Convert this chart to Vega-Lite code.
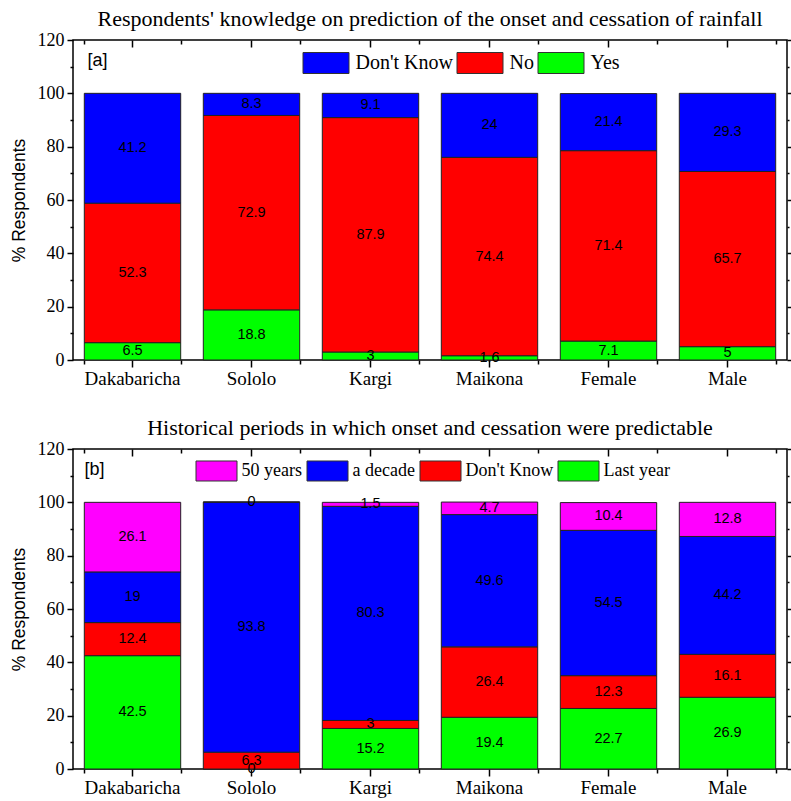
{
  "$schema": "https://vega.github.io/schema/vega-lite/v6.json",
  "background": "white",
  "padding": {"left": 9, "top": 7, "right": 0, "bottom": 0},
  "spacing": 27,
  "config": {
    "view": {"stroke": "black", "strokeWidth": 1.5},
    "axis": {"grid": false, "domain": false, "tickColor": "black", "tickWidth": 1.5, "labelColor": "black", "titleColor": "black", "labelFont": "Liberation Serif"},
    "legend": {"padding": 0}
  },
  "resolve": {"scale": {"color": "independent"}},
  "vconcat": [
    {
      "title": {"text": "Respondents' knowledge on prediction of the onset and cessation of rainfall", "font": "Liberation Serif", "fontSize": 22, "fontWeight": "normal", "color": "black", "offset": 0},
      "width": 714,
      "height": 320,
      "data": {"values": [
        {"loc": "Dakabaricha", "cat": "Yes", "k": 1, "v": 6.5},
        {"loc": "Dakabaricha", "cat": "No", "k": 2, "v": 52.3},
        {"loc": "Dakabaricha", "cat": "Don't Know", "k": 3, "v": 41.2},
        {"loc": "Sololo", "cat": "Yes", "k": 1, "v": 18.8},
        {"loc": "Sololo", "cat": "No", "k": 2, "v": 72.9},
        {"loc": "Sololo", "cat": "Don't Know", "k": 3, "v": 8.3},
        {"loc": "Kargi", "cat": "Yes", "k": 1, "v": 3},
        {"loc": "Kargi", "cat": "No", "k": 2, "v": 87.9},
        {"loc": "Kargi", "cat": "Don't Know", "k": 3, "v": 9.1},
        {"loc": "Maikona", "cat": "Yes", "k": 1, "v": 1.6},
        {"loc": "Maikona", "cat": "No", "k": 2, "v": 74.4},
        {"loc": "Maikona", "cat": "Don't Know", "k": 3, "v": 24},
        {"loc": "Female", "cat": "Yes", "k": 1, "v": 7.1},
        {"loc": "Female", "cat": "No", "k": 2, "v": 71.4},
        {"loc": "Female", "cat": "Don't Know", "k": 3, "v": 21.4},
        {"loc": "Male", "cat": "Yes", "k": 1, "v": 5},
        {"loc": "Male", "cat": "No", "k": 2, "v": 65.7},
        {"loc": "Male", "cat": "Don't Know", "k": 3, "v": 29.3}
      ]},
      "resolve": {"axis": {"x": "independent", "y": "independent"}},
      "layer": [
        {
          "transform": [{"stack": "v", "groupby": ["loc"], "sort": [{"field": "k", "order": "ascending"}], "as": ["y0", "y1"]}],
          "mark": {"type": "bar", "stroke": "#222", "strokeWidth": 1},
          "encoding": {
            "x": {"field": "loc", "type": "nominal", "sort": ["Dakabaricha", "Sololo", "Kargi", "Maikona", "Female", "Male"], "scale": {"paddingInner": 0.19, "paddingOuter": 0.095}, "axis": {"orient": "bottom", "title": null, "labelAngle": 0, "labelFontSize": 19, "tickSize": 7, "labelPadding": 2}},
            "y": {"field": "y0", "type": "quantitative", "scale": {"domain": [0, 120], "nice": false}, "axis": {"orient": "left", "values": [0, 20, 40, 60, 80, 100, 120], "tickSize": 6, "labelFontSize": 18, "labelPadding": 3, "title": "% Respondents", "titleFont": "Liberation Sans", "titleFontSize": 17.5, "titleFontWeight": "normal", "titlePadding": 9}},
            "y2": {"field": "y1"},
            "color": {"field": "cat", "type": "nominal", "scale": {"domain": ["Don't Know", "No", "Yes"], "range": ["#0000ff", "#ff0000", "#00ff00"]}, "legend": {"title": null, "orient": "none", "legendX": 229.5, "legendY": -0.5, "direction": "horizontal", "symbolType": "M-1,-0.4565H1V0.4565H-1Z", "symbolSize": 2116, "symbolStrokeColor": "#333", "symbolStrokeWidth": 1, "symbolOpacity": 1, "labelFont": "Liberation Serif", "labelFontSize": 20, "labelColor": "black", "labelOffset": 6, "columnPadding": 1, "labelLimit": 300}}
          }
        },
        {
          "transform": [{"stack": "v", "groupby": ["loc"], "sort": [{"field": "k", "order": "ascending"}], "as": ["y0", "y1"]}, {"calculate": "(datum.y0 + datum.y1) / 2", "as": "ym"}],
          "mark": {"type": "text", "font": "Liberation Sans", "fontSize": 14.5, "color": "black", "baseline": "middle"},
          "encoding": {
            "x": {"field": "loc", "type": "nominal", "sort": ["Dakabaricha", "Sololo", "Kargi", "Maikona", "Female", "Male"], "axis": null},
            "y": {"field": "ym", "type": "quantitative", "axis": null},
            "text": {"field": "v", "type": "nominal"}
          }
        },
        {
          "mark": {"type": "point", "opacity": 0},
          "encoding": {
            "x": {"field": "loc", "type": "nominal", "sort": ["Dakabaricha", "Sololo", "Kargi", "Maikona", "Female", "Male"], "axis": {"orient": "bottom", "tickBand": "extent", "labels": false, "tickSize": 4, "title": null}},
            "y": {"field": "v", "type": "quantitative", "axis": {"orient": "left", "values": [10, 30, 50, 70, 90, 110], "labels": false, "tickSize": 3, "title": null}}
          }
        },
        {
          "mark": {"type": "point", "opacity": 0},
          "encoding": {
            "x": {"field": "loc", "type": "nominal", "sort": ["Dakabaricha", "Sololo", "Kargi", "Maikona", "Female", "Male"], "axis": {"orient": "top", "labels": false, "tickSize": -7, "title": null, "minExtent": 0}},
            "y": {"field": "v", "type": "quantitative", "axis": {"orient": "right", "values": [0, 20, 40, 60, 80, 100, 120], "labels": false, "tickSize": 4, "title": null}}
          }
        },
        {
          "mark": {"type": "point", "opacity": 0},
          "encoding": {
            "x": {"field": "loc", "type": "nominal", "sort": ["Dakabaricha", "Sololo", "Kargi", "Maikona", "Female", "Male"], "axis": {"orient": "top", "tickBand": "extent", "labels": false, "tickSize": -4, "title": null, "minExtent": 0}},
            "y": {"field": "v", "type": "quantitative", "axis": {"orient": "right", "values": [10, 30, 50, 70, 90, 110], "labels": false, "tickSize": 2, "title": null}}
          }
        },
        {
          "data": {"values": [{"t": "[a]"}]},
          "mark": {"type": "text", "font": "Liberation Sans", "fontSize": 18, "color": "black", "align": "left", "baseline": "middle", "dx": -45},
          "encoding": {
            "x": {"datum": "Dakabaricha", "type": "nominal", "axis": null},
            "y": {"datum": 112, "type": "quantitative", "axis": null},
            "text": {"field": "t", "type": "nominal"}
          }
        }
      ]
    },
    {
      "title": {"text": "Historical periods in which onset and cessation were predictable", "font": "Liberation Serif", "fontSize": 22, "fontWeight": "normal", "color": "black", "offset": 0},
      "width": 714,
      "height": 320,
      "data": {"values": [
        {"loc": "Dakabaricha", "cat": "Last year", "k": 1, "v": 42.5},
        {"loc": "Dakabaricha", "cat": "Don't Know", "k": 2, "v": 12.4},
        {"loc": "Dakabaricha", "cat": "a decade", "k": 3, "v": 19},
        {"loc": "Dakabaricha", "cat": "50 years", "k": 4, "v": 26.1},
        {"loc": "Sololo", "cat": "Last year", "k": 1, "v": 0},
        {"loc": "Sololo", "cat": "Don't Know", "k": 2, "v": 6.3},
        {"loc": "Sololo", "cat": "a decade", "k": 3, "v": 93.8},
        {"loc": "Sololo", "cat": "50 years", "k": 4, "v": 0},
        {"loc": "Kargi", "cat": "Last year", "k": 1, "v": 15.2},
        {"loc": "Kargi", "cat": "Don't Know", "k": 2, "v": 3},
        {"loc": "Kargi", "cat": "a decade", "k": 3, "v": 80.3},
        {"loc": "Kargi", "cat": "50 years", "k": 4, "v": 1.5},
        {"loc": "Maikona", "cat": "Last year", "k": 1, "v": 19.4},
        {"loc": "Maikona", "cat": "Don't Know", "k": 2, "v": 26.4},
        {"loc": "Maikona", "cat": "a decade", "k": 3, "v": 49.6},
        {"loc": "Maikona", "cat": "50 years", "k": 4, "v": 4.7},
        {"loc": "Female", "cat": "Last year", "k": 1, "v": 22.7},
        {"loc": "Female", "cat": "Don't Know", "k": 2, "v": 12.3},
        {"loc": "Female", "cat": "a decade", "k": 3, "v": 54.5},
        {"loc": "Female", "cat": "50 years", "k": 4, "v": 10.4},
        {"loc": "Male", "cat": "Last year", "k": 1, "v": 26.9},
        {"loc": "Male", "cat": "Don't Know", "k": 2, "v": 16.1},
        {"loc": "Male", "cat": "a decade", "k": 3, "v": 44.2},
        {"loc": "Male", "cat": "50 years", "k": 4, "v": 12.8}
      ]},
      "resolve": {"axis": {"x": "independent", "y": "independent"}},
      "layer": [
        {
          "transform": [{"stack": "v", "groupby": ["loc"], "sort": [{"field": "k", "order": "ascending"}], "as": ["y0", "y1"]}],
          "mark": {"type": "bar", "stroke": "#222", "strokeWidth": 1},
          "encoding": {
            "x": {"field": "loc", "type": "nominal", "sort": ["Dakabaricha", "Sololo", "Kargi", "Maikona", "Female", "Male"], "scale": {"paddingInner": 0.19, "paddingOuter": 0.095}, "axis": {"orient": "bottom", "title": null, "labelAngle": 0, "labelFontSize": 19, "tickSize": 7, "labelPadding": 2}},
            "y": {"field": "y0", "type": "quantitative", "scale": {"domain": [0, 120], "nice": false}, "axis": {"orient": "left", "values": [0, 20, 40, 60, 80, 100, 120], "tickSize": 6, "labelFontSize": 18, "labelPadding": 3, "title": "% Respondents", "titleFont": "Liberation Sans", "titleFontSize": 17.5, "titleFontWeight": "normal", "titlePadding": 9}},
            "y2": {"field": "y1"},
            "color": {"field": "cat", "type": "nominal", "scale": {"domain": ["50 years", "a decade", "Don't Know", "Last year"], "range": ["#ff00ff", "#0000ff", "#ff0000", "#00ff00"]}, "legend": {"title": null, "orient": "none", "legendX": 122.5, "legendY": 0.5, "direction": "horizontal", "symbolType": "M-1,-0.488H1V0.488H-1Z", "symbolSize": 1681, "symbolStrokeColor": "#333", "symbolStrokeWidth": 1, "symbolOpacity": 1, "labelFont": "Liberation Serif", "labelFontSize": 18, "labelColor": "black", "labelOffset": 4, "columnPadding": 2, "labelLimit": 300}}
          }
        },
        {
          "transform": [{"stack": "v", "groupby": ["loc"], "sort": [{"field": "k", "order": "ascending"}], "as": ["y0", "y1"]}, {"calculate": "(datum.y0 + datum.y1) / 2", "as": "ym"}],
          "mark": {"type": "text", "font": "Liberation Sans", "fontSize": 14.5, "color": "black", "baseline": "middle"},
          "encoding": {
            "x": {"field": "loc", "type": "nominal", "sort": ["Dakabaricha", "Sololo", "Kargi", "Maikona", "Female", "Male"], "axis": null},
            "y": {"field": "ym", "type": "quantitative", "axis": null},
            "text": {"field": "v", "type": "nominal"}
          }
        },
        {
          "mark": {"type": "point", "opacity": 0},
          "encoding": {
            "x": {"field": "loc", "type": "nominal", "sort": ["Dakabaricha", "Sololo", "Kargi", "Maikona", "Female", "Male"], "axis": {"orient": "bottom", "tickBand": "extent", "labels": false, "tickSize": 4, "title": null}},
            "y": {"field": "v", "type": "quantitative", "axis": {"orient": "left", "values": [10, 30, 50, 70, 90, 110], "labels": false, "tickSize": 3, "title": null}}
          }
        },
        {
          "mark": {"type": "point", "opacity": 0},
          "encoding": {
            "x": {"field": "loc", "type": "nominal", "sort": ["Dakabaricha", "Sololo", "Kargi", "Maikona", "Female", "Male"], "axis": {"orient": "top", "labels": false, "tickSize": -7, "title": null, "minExtent": 0}},
            "y": {"field": "v", "type": "quantitative", "axis": {"orient": "right", "values": [0, 20, 40, 60, 80, 100, 120], "labels": false, "tickSize": 4, "title": null}}
          }
        },
        {
          "mark": {"type": "point", "opacity": 0},
          "encoding": {
            "x": {"field": "loc", "type": "nominal", "sort": ["Dakabaricha", "Sololo", "Kargi", "Maikona", "Female", "Male"], "axis": {"orient": "top", "tickBand": "extent", "labels": false, "tickSize": -4, "title": null, "minExtent": 0}},
            "y": {"field": "v", "type": "quantitative", "axis": {"orient": "right", "values": [10, 30, 50, 70, 90, 110], "labels": false, "tickSize": 2, "title": null}}
          }
        },
        {
          "data": {"values": [{"t": "[b]"}]},
          "mark": {"type": "text", "font": "Liberation Sans", "fontSize": 18, "color": "black", "align": "left", "baseline": "middle", "dx": -48},
          "encoding": {
            "x": {"datum": "Dakabaricha", "type": "nominal", "axis": null},
            "y": {"datum": 112, "type": "quantitative", "axis": null},
            "text": {"field": "t", "type": "nominal"}
          }
        }
      ]
    }
  ]
}
